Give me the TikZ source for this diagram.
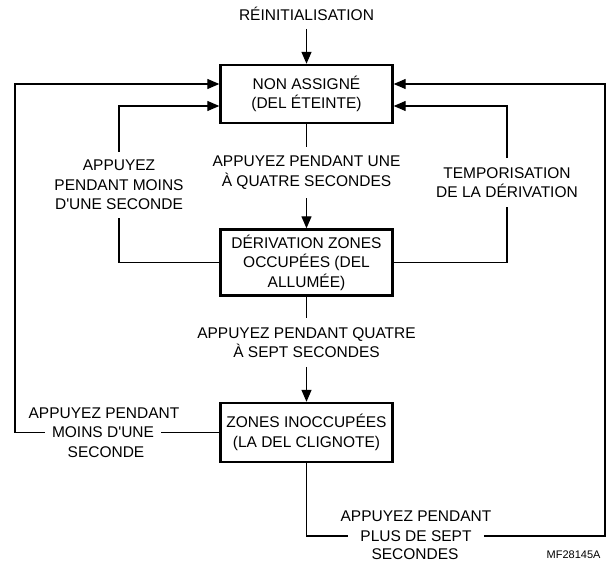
\documentclass[tikz,border=0pt]{standalone}
\usepackage{fontspec}
\setmainfont{Liberation Sans}
\usetikzlibrary{arrows.meta,calc}
\begin{document}
\begin{tikzpicture}[x=1bp,y=-1bp,
  every node/.style={font=\fontsize{15.5bp}{19.5bp}\selectfont, align=center},
  box/.style={draw, line width=2.4bp, inner sep=0pt},
  lbl/.style={inner xsep=4bp, inner ysep=8bp},
  mid/.style={inner xsep=7bp, inner ysep=2bp},
  wire/.style={line width=1.3bp},
  arr/.style={wire, -{Triangle[length=12bp,width=10bp]}}]
\useasboundingbox (0,0) rectangle (613,562);

% boxes
\node[box, minimum width=172bp, minimum height=58bp] (b1) at (306.5,94) {NON ASSIGNÉ\\(DEL ÉTEINTE)};
\node[box, minimum width=172bp, minimum height=66bp] (b2) at (306.5,262.5) {DÉRIVATION ZONES\\OCCUPÉES (DEL\\ALLUMÉE)};
\node[box, minimum width=172bp, minimum height=59bp] (b3) at (306.5,432.5) {ZONES INOCCUPÉES\\(LA DEL CLIGNOTE)};

% labels
\node[lbl] (reinit) at (306.5,14) {RÉINITIALISATION};
\node[lbl, inner ysep=9bp] (l1) at (306.5,172.5) {APPUYEZ PENDANT UNE\\À QUATRE SECONDES};
\node[lbl, inner ysep=9bp] (l2) at (306.5,342.5) {APPUYEZ PENDANT QUATRE\\À SEPT SECONDES};
\node[lbl] (lleft) at (119,185) {APPUYEZ\\PENDANT MOINS\\D\textquotesingle UNE SECONDE};
\node[lbl, inner ysep=9bp] (lright) at (507,182.5) {TEMPORISATION\\DE LA DÉRIVATION};

\node[mid] (l3mid) at (103,432.5) {MOINS D\textquotesingle UNE};
\node (l3top) at (104,413) {APPUYEZ PENDANT};
\node (l3bot) at (106,452) {SECONDE};

\node[mid, inner xsep=12bp] (lbmid) at (416,536) {PLUS DE SEPT};
\node (lbtop) at (416,516.5) {APPUYEZ PENDANT};
\node (lbbot) at (415,554.5) {SECONDES};

\node[font=\fontsize{11bp}{13bp}\selectfont, anchor=east] (mf) at (604,555) {MF28145A};

% connectors
\coordinate (olt) at (15,84);
\coordinate (ort) at (605,84);
\draw[arr] (reinit.south) -- (b1.north);
\draw[wire] (b1.south) -- (l1.north);
\draw[arr] (l1.south) -- (b2.north);
\draw[wire] (b2.south) -- (l2.north);
\draw[arr] (l2.south) -- (b3.north);
\draw[wire] (b2.west) -| (lleft.south);
\draw[arr] (lleft.north) |- ($(b1.west)+(0,12)$);
\draw[wire] (b2.east) -| (lright.south);
\draw[arr] (lright.north) |- ($(b1.east)+(0,12)$);
\draw[wire] (b3.west) -- (l3mid.east);
\draw[arr] (l3mid.west) -| (olt) -- (b1.west |- olt);
\draw[wire] (b3.south) |- (lbmid.west);
\draw[arr] (lbmid.east) -| (ort) -- (b1.east |- ort);
\end{tikzpicture}
\end{document}
